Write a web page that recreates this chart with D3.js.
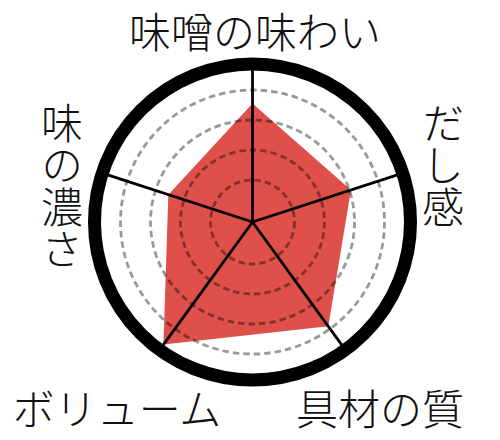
<!DOCTYPE html>
<html>
<head>
<meta charset="utf-8">
<script src="https://cdn.jsdelivr.net/npm/d3@7"></script>
<style>
  body { margin: 0; background: #fff; }
  svg text { font-family: "Noto Sans CJK JP", sans-serif; font-weight: 300; fill: #111; }
</style>
</head>
<body>
<div id="chart"></div>
<script>
// Axis labels, clockwise from the top
var axes = ["味噌の味わい", "だし感", "具材の質", "ボリューム", "味の濃さ"];
// Score for each axis
var scores = [3.55, 3.05, 3.9, 4.65, 2.55];
// Dashed guide rings
var levels = [1, 2, 3, 4];

var width = 500, height = 440;
var cx = 252.5, cy = 222;

var svg = d3.select("#chart")
    .append("svg")
    .attr("width", width)
    .attr("height", height);

var g = svg.append("g")
    .attr("transform", "translate(" + cx + "," + cy + ")");

// radial scale: value -> radius
var r = d3.scaleLinear()
    .domain([0, 5])
    .range([12, 162]);

var angle = d3.scaleLinear()
    .domain([0, axes.length])
    .range([0, 2 * Math.PI]);

// The filled score polygon
var radar = d3.lineRadial()
    .angle(function (d, i) { return angle(i); })
    .radius(function (d) { return r(d); })
    .curve(d3.curveLinearClosed);

g.append("path")
    .datum(scores)
    .attr("fill", "#de5049")
    .attr("d", radar);

// Dashed rings on top of the polygon (translucent so they darken on red)
g.selectAll(".level")
    .data(levels)
    .enter()
    .append("circle")
    .attr("class", "level")
    .attr("r", function (d) { return r(d); })
    .attr("fill", "none")
    .attr("stroke", "#000")
    .attr("stroke-opacity", 0.4)
    .attr("stroke-width", 2.8)
    .attr("stroke-dasharray", "6.5,4");

// Spokes
g.selectAll(".spoke")
    .data(axes)
    .enter()
    .append("line")
    .attr("class", "spoke")
    .attr("x1", 0)
    .attr("y1", 0)
    .attr("x2", function (d, i) { return Math.sin(angle(i)) * 158; })
    .attr("y2", function (d, i) { return -Math.cos(angle(i)) * 158; })
    .attr("stroke", "#000")
    .attr("stroke-width", 2.8);

// Thick outer ring
g.append("circle")
    .attr("r", 158)
    .attr("fill", "none")
    .attr("stroke", "#000")
    .attr("stroke-width", 13);

// Labels
var labelPos = [
  { x: 255, y: 29, vertical: false },
  { x: 443, y: 165, vertical: true },
  { x: 380, y: 406, vertical: false },
  { x: 117, y: 406, vertical: false },
  { x: 62, y: 186, vertical: true }
];

svg.selectAll(".label")
    .data(axes)
    .enter()
    .append("text")
    .attr("class", "label")
    .attr("x", function (d, i) { return labelPos[i].x; })
    .attr("y", function (d, i) { return labelPos[i].y; })
    .attr("text-anchor", "middle")
    .attr("dominant-baseline", "central")
    .style("writing-mode", function (d, i) { return labelPos[i].vertical ? "vertical-rl" : null; })
    .style("font-size", "42px")
    .text(function (d) { return d; });
</script>
</body>
</html>
